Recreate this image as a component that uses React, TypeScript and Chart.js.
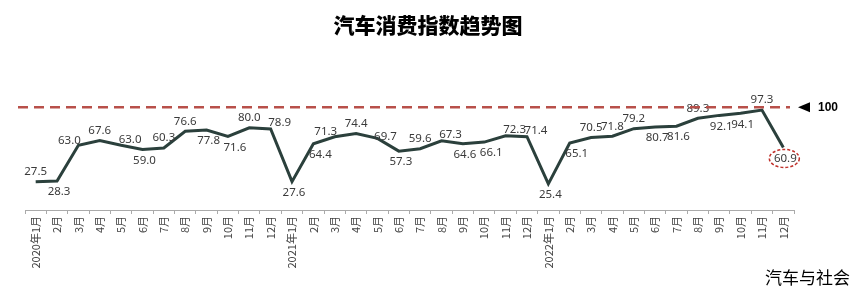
import React, { useEffect, useRef } from "react";
import { Chart, registerables } from "chart.js";

Chart.register(...registerables);

const months: string[] = [
  "2020年1月", "2月", "3月", "4月", "5月", "6月", "7月", "8月", "9月", "10月", "11月", "12月",
  "2021年1月", "2月", "3月", "4月", "5月", "6月", "7月", "8月", "9月", "10月", "11月", "12月",
  "2022年1月", "2月", "3月", "4月", "5月", "6月", "7月", "8月", "9月", "10月", "11月", "12月",
];

const indexValues: number[] = [
  27.5, 28.3, 63.0, 67.6, 63.0, 59.0, 60.3, 76.6, 77.8, 71.6, 80.0, 78.9,
  27.6, 64.4, 71.3, 74.4, 69.7, 57.3, 59.6, 67.3, 64.6, 66.1, 72.3, 71.4,
  25.4, 65.1, 70.5, 71.8, 79.2, 80.7, 81.6, 89.3, 92.1, 94.1, 97.3, 60.9,
];

// label placement: a=above, b=below, al/ar=above-left/right, br=below-right, r=right
const labelPlacement: string[] = [
  "a", "b", "al", "a", "ar", "b", "a", "a", "b", "br", "a", "ar",
  "b", "br", "al", "a", "r", "b", "a", "ar", "b", "br", "ar", "ar",
  "b", "br", "a", "a", "a", "b", "b", "a", "b", "b", "a", "b",
];

const referenceLevel = 100;
const referenceLabel = "100";
const titleText = "汽车消费指数趋势图";
const sourceText = "汽车与社会";

const offsets: Record<string, [number, number]> = {
  a: [0, -10],
  b: [2, 11],
  al: [-9, -5],
  ar: [9, -6],
  br: [7, 11],
  r: [8, -2],
};

const decorPlugin = {
  id: "decor",
  afterDatasetsDraw(chart: any) {
    const ctx = chart.ctx;
    const x = chart.scales.x;
    const y = chart.scales.y;
    const meta = chart.getDatasetMeta(0);
    ctx.save();
    ctx.font = "11.5px 'Noto Sans', 'DejaVu Sans', sans-serif";
    ctx.fillStyle = "#3a3a3a";
    ctx.textAlign = "center";
    ctx.textBaseline = "middle";
    meta.data.forEach((pt: any, i: number) => {
      const o = offsets[labelPlacement[i]] || [0, -10];
      ctx.fillText(indexValues[i].toFixed(1), pt.x + o[0], pt.y + o[1]);
    });
    const last = meta.data[meta.data.length - 1];
    const lo = offsets[labelPlacement[labelPlacement.length - 1]];
    ctx.beginPath();
    ctx.setLineDash([3, 2]);
    ctx.strokeStyle = "#c0302a";
    ctx.lineWidth = 1.5;
    ctx.ellipse(last.x + lo[0] - 1, last.y + lo[1], 15, 9, 0, 0, Math.PI * 2);
    ctx.stroke();
    ctx.restore();

    ctx.save();
    const yRef = y.getPixelForValue(referenceLevel);
    ctx.strokeStyle = "#b8504a";
    ctx.lineWidth = 2.5;
    ctx.setLineDash([10, 6]);
    ctx.beginPath();
    ctx.moveTo(x.left - 7, yRef);
    ctx.lineTo(x.right - 4, yRef);
    ctx.stroke();
    ctx.setLineDash([]);
    ctx.fillStyle = "#000";
    ctx.beginPath();
    ctx.moveTo(x.right + 4, yRef);
    ctx.lineTo(x.right + 16, yRef - 5);
    ctx.lineTo(x.right + 16, yRef + 5);
    ctx.closePath();
    ctx.fill();
    ctx.font = "bold 12px 'Liberation Sans Narrow', 'Liberation Sans', sans-serif";
    ctx.textAlign = "left";
    ctx.textBaseline = "middle";
    ctx.fillText(referenceLabel, x.right + 24, yRef);
    ctx.restore();

    ctx.save();
    ctx.fillStyle = "#000";
    ctx.textAlign = "center";
    ctx.textBaseline = "middle";
    ctx.font = "900 21px 'Noto Sans CJK SC', sans-serif";
    ctx.fillText(titleText, 428, 25);
    ctx.textAlign = "right";
    ctx.font = "17px 'Noto Sans CJK SC', sans-serif";
    ctx.fillText(sourceText, 850, 278);
    ctx.restore();
  },
};

export default function App() {
  const ref = useRef<HTMLCanvasElement | null>(null);
  useEffect(() => {
    document.body.style.margin = "0";
    const canvas = ref.current;
    if (!canvas) return;
    const chart = new Chart(canvas, {
      type: "line",
      data: {
        labels: months,
        datasets: [
          {
            data: indexValues,
            borderColor: "#2b403c",
            borderWidth: 3,
            pointRadius: 0,
            tension: 0,
            fill: false,
          },
        ],
      },
      options: {
        responsive: false,
        animation: false,
        layout: { padding: { top: 97, left: 25, right: 69, bottom: 0 } },
        plugins: { legend: { display: false }, title: { display: false }, tooltip: { enabled: false } },
        scales: {
          x: {
            offset: true,
            grid: { display: true, offset: true, drawOnChartArea: false, drawTicks: true, tickLength: 4, color: "#aaa" },
            border: { display: true, color: "#aaa" },
            ticks: {
              autoSkip: false,
              maxRotation: 90,
              minRotation: 90,
              padding: 2,
              color: "#444",
              font: { size: 11, family: "'Noto Sans CJK SC', sans-serif" },
            },
            afterFit: (s: any) => {
              s.height = 83;
            },
          },
          y: {
            display: false,
            min: 0,
            max: 110,
          },
        },
      },
      plugins: [decorPlugin],
    });
    return () => chart.destroy();
  }, []);
  return (
    <div style={{ width: 863, height: 293, background: "#fff" }}>
      <canvas ref={ref} width={863} height={293} style={{ display: "block" }} />
    </div>
  );
}
